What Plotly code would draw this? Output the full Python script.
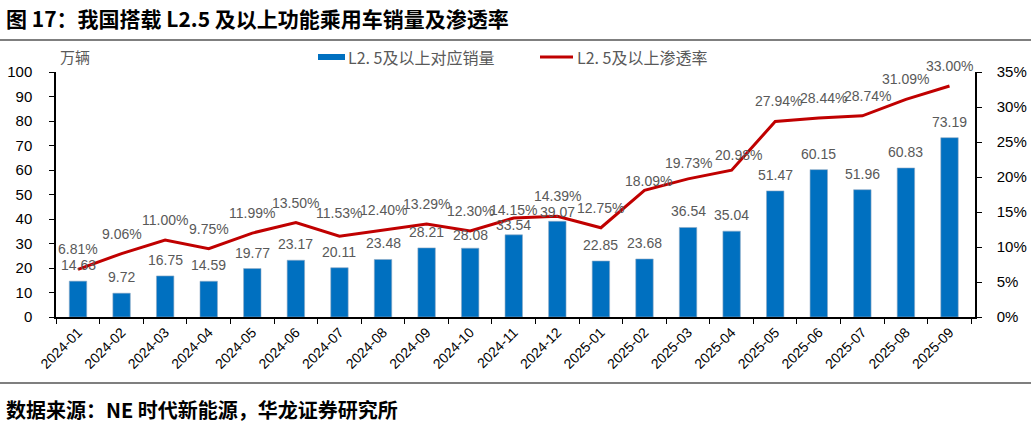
import plotly.graph_objects as go

months = ["2024-01","2024-02","2024-03","2024-04","2024-05","2024-06","2024-07","2024-08","2024-09","2024-10","2024-11","2024-12",
          "2025-01","2025-02","2025-03","2025-04","2025-05","2025-06","2025-07","2025-08","2025-09"]
sales = [14.63, 9.72, 16.75, 14.59, 19.77, 23.17, 20.11, 23.48, 28.21, 28.08, 33.54, 39.07,
         22.85, 23.68, 36.54, 35.04, 51.47, 60.15, 51.96, 60.83, 73.19]
rate = [6.81, 9.06, 11.00, 9.75, 11.99, 13.50, 11.53, 12.40, 13.29, 12.30, 14.15, 14.39,
        12.75, 18.09, 19.73, 20.98, 27.94, 28.44, 28.74, 31.09, 33.00]
bar_name = "L2. 5及以上对应销量"
line_name = "L2. 5及以上渗透率"
left_ticks = [0,10,20,30,40,50,60,70,80,90,100]
right_ticks = [0,5,10,15,20,25,30,35]

# label offsets (pixels) as placed in the original figure
bar_lab_dy = [16]*21
bar_lab_dy[9], bar_lab_dy[10], bar_lab_dy[11] = 13, 10, 9
line_lab_dy = [20]*21
line_lab_dy[6] = 23
line_lab_dy[10] = 8
line_lab_dy[13], line_lab_dy[14], line_lab_dy[15] = 9, 16, 15
line_lab_dx = [0]*21
line_lab_dx[13], line_lab_dx[15], line_lab_dx[16], line_lab_dx[17], line_lab_dx[18] = 4, 7, 3, 5, 5

W, H = 1031, 424
L, R, T, B = 56, 56, 72, 107
pw, ph = W - L - R, H - T - B
def px(x): return (x - L) / pw
def py(y): return (H - B - y) / ph

CJK = "Noto Sans CJK SC"
LAB = "Liberation Sans, Arial"
gray = "#595959"

fig = go.Figure()
fig.add_trace(go.Bar(
    x=months, y=sales, name=bar_name, marker=dict(color="#0070C0", line=dict(color="#8FA9C4", width=0.6)),
    width=0.4, showlegend=False))
fig.add_trace(go.Scatter(
    x=months, y=rate, name=line_name, yaxis="y2", mode="lines",
    line=dict(color="#C00000", width=3), cliponaxis=False, showlegend=False))

fig.update_layout(
    width=W, height=H, margin=dict(l=L, r=R, t=T, b=B, pad=0, autoexpand=False),
    paper_bgcolor="white", plot_bgcolor="white",
    font=dict(family=LAB, size=13, color="#000"),
    xaxis=dict(type="category", showline=True, linecolor="#000", linewidth=1.5, ticks="outside",
               tickson="boundaries", ticklen=5, tickcolor="#000", tickangle=-45, automargin=False,
               tickfont=dict(family=LAB, size=14, color="#000"), showgrid=False),
    yaxis=dict(range=[0,100], tickvals=left_ticks, showline=True, linecolor="#000", linewidth=1.5,
               ticks="outside", ticklen=5, tickcolor="#000", showgrid=False, zeroline=False,
               ticklabelstandoff=14, automargin=False,
               tickfont=dict(family=LAB, size=15, color="#000")),
    yaxis2=dict(range=[0,35], tickvals=right_ticks, ticktext=[f"{v}%" for v in right_ticks],
                overlaying="y", side="right", showline=True, linecolor="#000", linewidth=1.5,
                ticks="outside", ticklen=5, tickcolor="#000", showgrid=False, zeroline=False,
                ticklabelstandoff=12, automargin=False,
                tickfont=dict(family=LAB, size=15, color="#000")),
)

shapes = [
    dict(type="line", xref="paper", yref="paper", x0=px(0), x1=px(W), y0=py(40), y1=py(40), line=dict(color="#000", width=1.2)),
    dict(type="line", xref="paper", yref="paper", x0=px(0), x1=px(W), y0=py(383), y1=py(383), line=dict(color="#000", width=1.2)),
    dict(type="rect", xref="paper", yref="paper", x0=px(318), x1=px(345), y0=py(60), y1=py(54), fillcolor="#0070C0", line=dict(width=0)),
    dict(type="line", xref="paper", yref="paper", x0=px(540), x1=px(573), y0=py(57), y1=py(57), line=dict(color="#C00000", width=3)),
]
ann = [
    dict(text="<b>图 17：我国搭载 L2.5 及以上功能乘用车销量及渗透率</b>", x=px(4), y=py(18), xanchor="left", yanchor="middle",
         font=dict(family=CJK, size=21, color="#000"), xref="paper", yref="paper"),
    dict(text="<b>数据来源：NE 时代新能源，华龙证券研究所</b>", x=px(4), y=py(409), xanchor="left", yanchor="middle",
         font=dict(family=CJK, size=20, color="#000"), xref="paper", yref="paper"),
    dict(text="万辆", x=px(58), y=py(57), xanchor="left", yanchor="middle", font=dict(family=CJK, size=15, color=gray),
         xref="paper", yref="paper"),
    dict(text=bar_name, x=px(346), y=py(57), xanchor="left", yanchor="middle", font=dict(family=CJK, size=16, color=gray),
         xref="paper", yref="paper"),
    dict(text=line_name, x=px(575), y=py(57), xanchor="left", yanchor="middle", font=dict(family=CJK, size=16, color=gray),
         xref="paper", yref="paper"),
]
for m, v, dy in zip(months, sales, bar_lab_dy):
    ann.append(dict(text=f"{v:.2f}", x=m, y=v, xref="x", yref="y", yshift=dy, yanchor="middle",
                    font=dict(family=LAB, size=14, color=gray)))
for m, v, dy, dx in zip(months, rate, line_lab_dy, line_lab_dx):
    ann.append(dict(text=f"{v:.2f}%", x=m, y=v, xref="x", yref="y2", yshift=dy, xshift=dx, yanchor="middle",
                    font=dict(family=LAB, size=14, color=gray)))
for a in ann:
    a.update(showarrow=False)
fig.update_layout(shapes=shapes, annotations=ann)
fig.write_html("out.html")
